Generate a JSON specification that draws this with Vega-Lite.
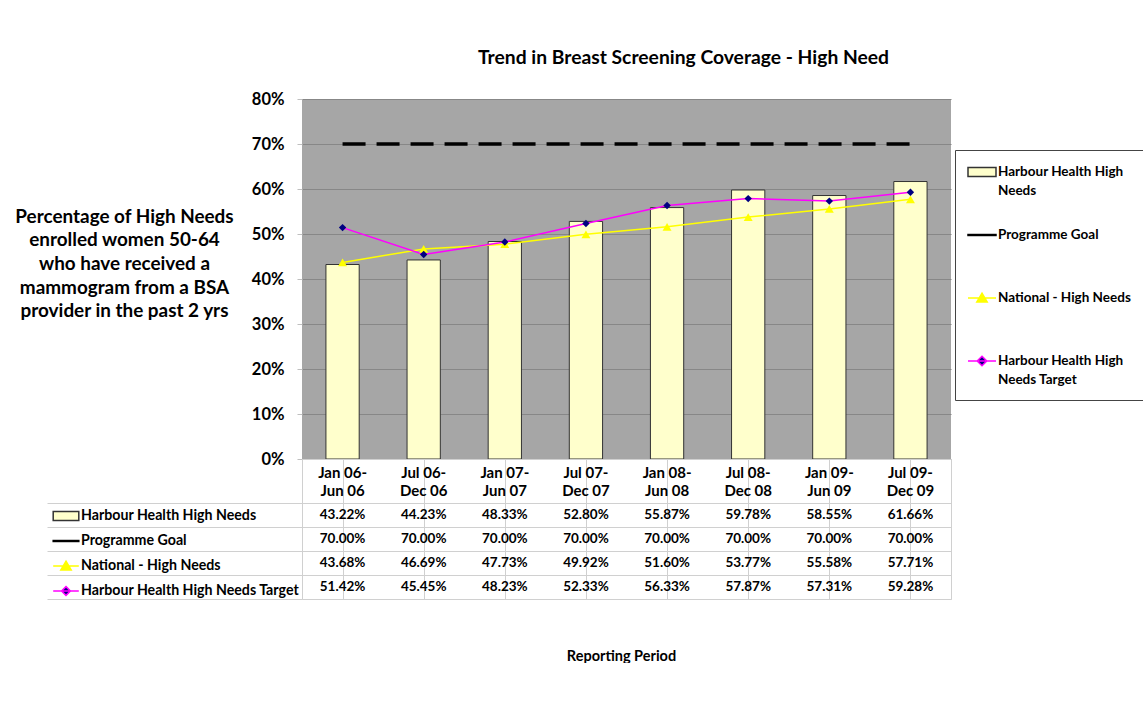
{
  "$schema": "https://vega.github.io/schema/vega-lite/v6.json",
  "background": "white",
  "padding": {"left": 14, "top": 48, "right": 0, "bottom": 0},
  "spacing": 0,
  "bounds": "flush",
  "resolve": {"scale": {"shape": "independent", "fill": "independent", "stroke": "independent"}, "legend": {"shape": "independent", "fill": "independent", "stroke": "independent"}},
  "config": {"font": "Lato", "view": {"stroke": null}, "style": {"guide-label": {"lineHeight": 19}}},
  "datasets": {
    "rows": [
      {"period": "Jan 06-\nJun 06", "series": "Harbour Health High Needs", "value": 0.4322},
      {"period": "Jul 06-\nDec 06", "series": "Harbour Health High Needs", "value": 0.4423},
      {"period": "Jan 07-\nJun 07", "series": "Harbour Health High Needs", "value": 0.4833},
      {"period": "Jul 07-\nDec 07", "series": "Harbour Health High Needs", "value": 0.5280},
      {"period": "Jan 08-\nJun 08", "series": "Harbour Health High Needs", "value": 0.5587},
      {"period": "Jul 08-\nDec 08", "series": "Harbour Health High Needs", "value": 0.5978},
      {"period": "Jan 09-\nJun 09", "series": "Harbour Health High Needs", "value": 0.5855},
      {"period": "Jul 09-\nDec 09", "series": "Harbour Health High Needs", "value": 0.6166},
      {"period": "Jan 06-\nJun 06", "series": "Programme Goal", "value": 0.70},
      {"period": "Jul 06-\nDec 06", "series": "Programme Goal", "value": 0.70},
      {"period": "Jan 07-\nJun 07", "series": "Programme Goal", "value": 0.70},
      {"period": "Jul 07-\nDec 07", "series": "Programme Goal", "value": 0.70},
      {"period": "Jan 08-\nJun 08", "series": "Programme Goal", "value": 0.70},
      {"period": "Jul 08-\nDec 08", "series": "Programme Goal", "value": 0.70},
      {"period": "Jan 09-\nJun 09", "series": "Programme Goal", "value": 0.70},
      {"period": "Jul 09-\nDec 09", "series": "Programme Goal", "value": 0.70},
      {"period": "Jan 06-\nJun 06", "series": "National - High Needs", "value": 0.4368},
      {"period": "Jul 06-\nDec 06", "series": "National - High Needs", "value": 0.4669},
      {"period": "Jan 07-\nJun 07", "series": "National - High Needs", "value": 0.4773},
      {"period": "Jul 07-\nDec 07", "series": "National - High Needs", "value": 0.4992},
      {"period": "Jan 08-\nJun 08", "series": "National - High Needs", "value": 0.5160},
      {"period": "Jul 08-\nDec 08", "series": "National - High Needs", "value": 0.5377},
      {"period": "Jan 09-\nJun 09", "series": "National - High Needs", "value": 0.5558},
      {"period": "Jul 09-\nDec 09", "series": "National - High Needs", "value": 0.5771},
      {"period": "Jan 06-\nJun 06", "series": "Harbour Health High Needs Target", "value": 0.5142},
      {"period": "Jul 06-\nDec 06", "series": "Harbour Health High Needs Target", "value": 0.4545},
      {"period": "Jan 07-\nJun 07", "series": "Harbour Health High Needs Target", "value": 0.4823},
      {"period": "Jul 07-\nDec 07", "series": "Harbour Health High Needs Target", "value": 0.5233},
      {"period": "Jan 08-\nJun 08", "series": "Harbour Health High Needs Target", "value": 0.5633},
      {"period": "Jul 08-\nDec 08", "series": "Harbour Health High Needs Target", "value": 0.5787},
      {"period": "Jan 09-\nJun 09", "series": "Harbour Health High Needs Target", "value": 0.5731},
      {"period": "Jul 09-\nDec 09", "series": "Harbour Health High Needs Target", "value": 0.5928}
    ]
  },
  "vconcat": [
    {
      "width": 649,
      "height": 360,
      "title": {"text": "Trend in Breast Screening Coverage - High Need", "font": "Lato", "fontSize": 19.3, "fontWeight": "bold", "color": "black", "dx": 57, "offset": 23},
      "view": {"fill": "#a6a6a6", "stroke": null},
      "data": {"name": "rows"},
      "encoding": {
        "x": {"field": "period", "type": "nominal", "sort": null, "scale": {"paddingInner": 0.59, "paddingOuter": 0.295}, "axis": null}
      },
      "layer": [
        {
          "transform": [{"filter": "datum.series === 'Harbour Health High Needs'"}],
          "mark": {"type": "bar", "fill": "#ffffcc", "stroke": "#333333", "strokeWidth": 1},
          "encoding": {
            "y": {
              "field": "value", "type": "quantitative",
              "scale": {"domain": [0, 0.8], "nice": false},
              "axis": {
                "values": [0, 0.1, 0.2, 0.3, 0.4, 0.5, 0.6, 0.7, 0.8],
                "format": "0%",
                "labelFont": "Lato", "labelFontWeight": "bold", "labelFontSize": 16.5, "labelColor": "black",
                "labelPadding": 13, "tickSize": 5, "tickColor": "#bfbfbf", "domain": false,
                "grid": true, "gridColor": "#878787",
                "title": ["Percentage of High Needs", "enrolled women 50-64", "who have received a", "mammogram from a BSA", "provider in the past 2 yrs"],
                "titleAngle": 0, "titleAlign": "center", "titleBaseline": "top",
                "titleX": -178, "titleY": 108,
                "titleFont": "Lato", "titleFontWeight": "bold", "titleFontSize": 18.9, "titleLineHeight": 23.7, "titleColor": "black"
              }
            }
          }
        },
        {
          "transform": [{"filter": "datum.series === 'Programme Goal'"}],
          "mark": {"type": "line", "color": "black", "strokeWidth": 3.5, "strokeDash": [23, 11]},
          "encoding": {"y": {"field": "value", "type": "quantitative"}}
        },
        {
          "transform": [{"filter": "datum.series === 'National - High Needs'"}],
          "mark": {"type": "line", "color": "#ffff00", "strokeWidth": 1.5},
          "encoding": {"y": {"field": "value", "type": "quantitative"}}
        },
        {
          "transform": [{"filter": "datum.series === 'Harbour Health High Needs Target'"}],
          "mark": {"type": "line", "color": "#ff00ff", "strokeWidth": 1.5},
          "encoding": {"y": {"field": "value", "type": "quantitative"}}
        },
        {
          "transform": [{"filter": "datum.series === 'National - High Needs'"}],
          "mark": {"type": "point", "filled": true, "color": "#ffff00", "size": 80, "opacity": 1, "shape": "triangle-up"},
          "encoding": {"y": {"field": "value", "type": "quantitative"}}
        },
        {
          "transform": [{"filter": "datum.series === 'Harbour Health High Needs Target'"}],
          "mark": {"type": "point", "filled": true, "color": "#000080", "size": 55, "opacity": 1, "shape": "diamond"},
          "encoding": {"y": {"field": "value", "type": "quantitative"}}
        },
        {
          "mark": {"type": "point", "opacity": 0, "size": 10},
          "encoding": {
            "y": {"field": "value", "type": "quantitative"},
            "shape": {
              "field": "series", "type": "nominal",
              "scale": {"domain": ["Harbour Health High Needs", "Programme Goal", "National - High Needs", "Harbour Health High Needs Target"], "range": ["M-1.75,-0.56H1.75V0.56H-1.75Z", "M-1.75,-0.06H1.75V0.06H-1.75Z", "M-1.75,0H1.75M0,-0.6L0.65,0.5L-0.65,0.5Z", "M-1.75,0H1.75M0,-0.6L0.6,0L0,0.6L-0.6,0Z"]},
              "legend": {
                "title": null, "orient": "none", "legendX": 653, "legendY": 51,
                "padding": 13, "symbolOffset": 5, "strokeColor": "#444444", "fillColor": "white",
                "labelFont": "Lato", "labelFontWeight": "bold", "labelFontSize": 13.5, "labelColor": "black",
                "labelLimit": 250, "symbolSize": 256, "symbolOpacity": 1, "symbolStrokeWidth": 1.5, "labelOffset": 7, "rowPadding": 28,
                "labelExpr": "datum.label === 'Harbour Health High Needs' ? ['Harbour Health High', 'Needs'] : datum.label === 'Harbour Health High Needs Target' ? ['Harbour Health High', 'Needs Target'] : [datum.label, ' ']"
              }
            },
            "fill": {
              "field": "series", "type": "nominal",
              "scale": {"domain": ["Harbour Health High Needs", "Programme Goal", "National - High Needs", "Harbour Health High Needs Target"], "range": ["#ffffcc", "#000000", "#ffff00", "#000080"]},
              "legend": {
                "title": null, "orient": "none", "legendX": 653, "legendY": 51,
                "padding": 13, "symbolOffset": 5, "strokeColor": "#444444", "fillColor": "white",
                "labelFont": "Lato", "labelFontWeight": "bold", "labelFontSize": 13.5, "labelColor": "black",
                "labelLimit": 250, "symbolSize": 256, "symbolOpacity": 1, "symbolStrokeWidth": 1.5, "labelOffset": 7, "rowPadding": 28,
                "labelExpr": "datum.label === 'Harbour Health High Needs' ? ['Harbour Health High', 'Needs'] : datum.label === 'Harbour Health High Needs Target' ? ['Harbour Health High', 'Needs Target'] : [datum.label, ' ']"
              }
            },
            "stroke": {
              "field": "series", "type": "nominal",
              "scale": {"domain": ["Harbour Health High Needs", "Programme Goal", "National - High Needs", "Harbour Health High Needs Target"], "range": ["#333333", "#000000", "#ffff00", "#ff00ff"]},
              "legend": {
                "title": null, "orient": "none", "legendX": 653, "legendY": 51,
                "padding": 13, "symbolOffset": 5, "strokeColor": "#444444", "fillColor": "white",
                "labelFont": "Lato", "labelFontWeight": "bold", "labelFontSize": 13.5, "labelColor": "black",
                "labelLimit": 250, "symbolSize": 256, "symbolOpacity": 1, "symbolStrokeWidth": 1.5, "labelOffset": 7, "rowPadding": 28,
                "labelExpr": "datum.label === 'Harbour Health High Needs' ? ['Harbour Health High', 'Needs'] : datum.label === 'Harbour Health High Needs Target' ? ['Harbour Health High', 'Needs Target'] : [datum.label, ' ']"
              }
            }
          }
        }
      ]
    },
    {
      "width": 649,
      "height": 140,
      "view": {"stroke": "#d0d0d0"},
      "data": {"name": "rows"},
      "encoding": {
        "x": {
          "field": "period", "type": "nominal", "sort": null,
          "scale": {"paddingInner": 0, "paddingOuter": 0},
          "axis": {
            "orient": "bottom", "labels": false, "ticks": false, "domain": false,
            "grid": true, "bandPosition": 0, "gridColor": "#d0d0d0",
            "title": "Reporting Period", "titleFont": "Lato", "titleFontWeight": "bold", "titleFontSize": 14.5, "titleColor": "black", "titlePadding": 50, "titleX": 319, "titleAlign": "center"
          }
        },
        "y": {
          "field": "series", "type": "nominal",
          "scale": {"type": "band", "domain": ["hdr", "Harbour Health High Needs", "Programme Goal", "National - High Needs", "Harbour Health High Needs Target"], "paddingInner": 0, "paddingOuter": 0.4167, "align": 1},
          "axis": {"orient": "left", "labels": false, "ticks": true, "tickSize": 255, "tickColor": "#d0d0d0", "bandPosition": 1, "grid": true, "gridColor": "#d0d0d0", "domain": false, "title": null}
        }
      },
      "layer": [
        {
          "mark": {"type": "text", "font": "Lato", "fontWeight": "bold", "fontSize": 13.5, "color": "black"},
          "encoding": {
            "text": {"field": "value", "type": "quantitative", "format": ".2%"}
          }
        },
        {
          "transform": [{"filter": "datum.series === 'Programme Goal'"}],
          "mark": {"type": "text", "font": "Lato", "fontWeight": "bold", "fontSize": 15, "color": "black", "lineBreak": "\n", "lineHeight": 18, "dy": -18},
          "encoding": {
            "y": {"datum": "hdr"},
            "text": {"field": "period", "type": "nominal"}
          }
        },
        {
          "mark": {"type": "point", "opacity": 0, "size": 10},
          "encoding": {
            "shape": {
              "field": "series", "type": "nominal",
              "scale": {"domain": ["Harbour Health High Needs", "Programme Goal", "National - High Needs", "Harbour Health High Needs Target"], "range": ["M-1.6,-0.56H1.6V0.56H-1.6Z", "M-1.6,-0.06H1.6V0.06H-1.6Z", "M-1.6,0H1.6M0,-0.6L0.65,0.5L-0.65,0.5Z", "M-1.6,0H1.6M0,-0.55L0.55,0L0,0.55L-0.55,0Z"]},
              "legend": {
                "title": null, "orient": "none", "legendX": -245, "legendY": 48, "padding": 0,
                "labelFont": "Lato", "labelFontWeight": "bold", "labelFontSize": 14.2, "labelColor": "black",
                "labelLimit": 260, "symbolSize": 256, "symbolOpacity": 1, "symbolStrokeWidth": 1.5, "labelOffset": 6, "rowPadding": 8
              }
            },
            "fill": {
              "field": "series", "type": "nominal",
              "scale": {"domain": ["Harbour Health High Needs", "Programme Goal", "National - High Needs", "Harbour Health High Needs Target"], "range": ["#ffffcc", "#000000", "#ffff00", "#000080"]},
              "legend": {
                "title": null, "orient": "none", "legendX": -245, "legendY": 48, "padding": 0,
                "labelFont": "Lato", "labelFontWeight": "bold", "labelFontSize": 14.2, "labelColor": "black",
                "labelLimit": 260, "symbolSize": 256, "symbolOpacity": 1, "symbolStrokeWidth": 1.5, "labelOffset": 6, "rowPadding": 8
              }
            },
            "stroke": {
              "field": "series", "type": "nominal",
              "scale": {"domain": ["Harbour Health High Needs", "Programme Goal", "National - High Needs", "Harbour Health High Needs Target"], "range": ["#333333", "#000000", "#ffff00", "#ff00ff"]},
              "legend": {
                "title": null, "orient": "none", "legendX": -245, "legendY": 48, "padding": 0,
                "labelFont": "Lato", "labelFontWeight": "bold", "labelFontSize": 14.2, "labelColor": "black",
                "labelLimit": 260, "symbolSize": 256, "symbolOpacity": 1, "symbolStrokeWidth": 1.5, "labelOffset": 6, "rowPadding": 8
              }
            }
          }
        }
      ]
    }
  ]
}
